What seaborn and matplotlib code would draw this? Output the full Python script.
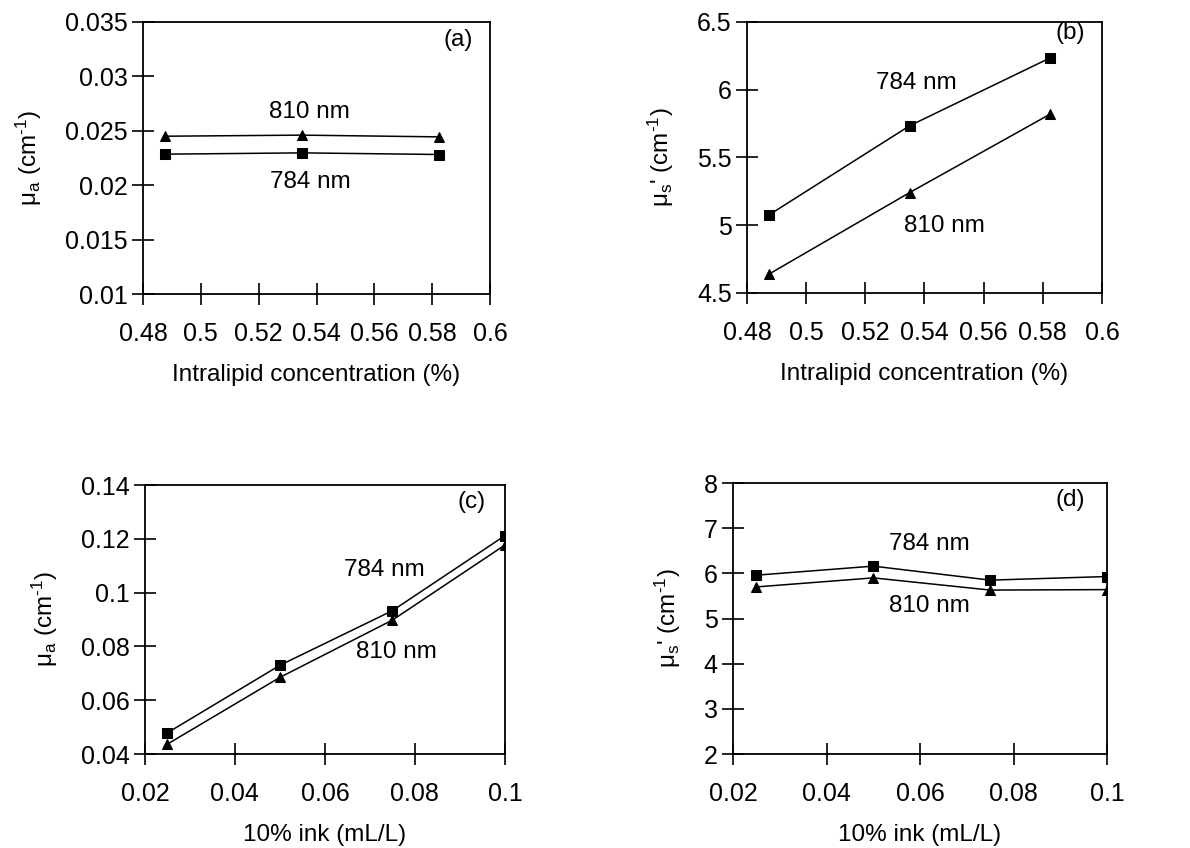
import numpy as np
import matplotlib
matplotlib.use("Agg")
import matplotlib.pyplot as plt
import seaborn as sns

# panel (a)/(b): intralipid series
lipid = [0.4875, 0.535, 0.5825]
mua_lip_784 = [0.02285, 0.02297, 0.02282]
mua_lip_810 = [0.0245, 0.0246, 0.02444]
mus_lip_784 = [5.077, 5.734, 6.235]
mus_lip_810 = [4.64, 5.241, 5.82]

# panel (c)/(d): ink series
ink = [0.025, 0.05, 0.075, 0.1]
mua_ink_784 = [0.0479, 0.073, 0.0933, 0.1212]
mua_ink_810 = [0.0437, 0.0685, 0.0898, 0.1177]
mus_ink_784 = [5.96, 6.16, 5.85, 5.93]
mus_ink_810 = [5.70, 5.90, 5.63, 5.64]

sns.set_theme(style="ticks")
plt.rcParams["font.family"] = ["Liberation Sans", "DejaVu Sans"]
plt.rcParams["mathtext.fontset"] = "custom"
plt.rcParams["mathtext.rm"] = "Liberation Sans"
plt.rcParams["mathtext.it"] = "Liberation Sans"
plt.rcParams["mathtext.default"] = "regular"
for k in ["text.color", "axes.labelcolor", "xtick.color", "ytick.color"]:
    plt.rcParams[k] = "black"

FS = 18
LFS = 17.5
fig = plt.figure(figsize=(11.9, 8.48), dpi=100)

def panel(rect, x, y784, y810, xlim, xticks, ylim, yticks, xlabel, ylabel,
          tag, tagpos, lab784, lab810):
    ax = fig.add_axes(rect)
    sns.lineplot(x=x, y=y784, marker="s", color="black", markersize=7,
                 markeredgecolor="black", linewidth=1.1, ax=ax)
    sns.lineplot(x=x, y=y810, marker="^", color="black", markersize=7,
                 markeredgecolor="black", linewidth=1.1, ax=ax)
    ax.set_xlim(*xlim)
    ax.set_ylim(*ylim)
    ax.set_xticks(xticks)
    ax.set_yticks(yticks)
    ax.set_xticklabels(["{:g}".format(v) for v in xticks], fontsize=FS)
    ax.set_yticklabels(["{:g}".format(v) for v in yticks], fontsize=FS)
    ax.tick_params(axis="both", direction="inout", length=16, width=1.2,
                   color="black", top=False, right=False)
    ax.tick_params(axis="x", pad=12)
    ax.tick_params(axis="y", pad=3)
    for s in ax.spines.values():
        s.set_linewidth(1.3)
        s.set_color("black")
    ax.set_xlabel(xlabel, fontsize=LFS, labelpad=13)
    ax.set_ylabel(ylabel, fontsize=LFS, labelpad=15)
    ax.text(tagpos[0], tagpos[1], tag, transform=ax.transAxes,
            ha="center", va="center", fontsize=LFS)
    ax.text(lab784[0], lab784[1], "784 nm", ha="center", va="center", fontsize=LFS)
    ax.text(lab810[0], lab810[1], "810 nm", ha="center", va="center", fontsize=LFS)
    return ax

mua_lab = "$\\mu_a$ (cm$^{\u2010 1}$)".replace(" 1", "1")
mus_lab = "$\\mu_s$' (cm$^{\u2010 1}$)".replace(" 1", "1")

panel([0.1202, 0.6533, 0.2916, 0.3208], lipid, mua_lip_784, mua_lip_810,
      (0.48, 0.6), np.round(np.arange(0.48, 0.601, 0.02), 2),
      (0.01, 0.035), np.round(np.arange(0.01, 0.0351, 0.005), 3),
      "Intralipid concentration (%)", mua_lab, "(a)", (0.908, 0.934),
      (0.538, 0.0203), (0.5377, 0.0267))

panel([0.6277, 0.6545, 0.2983, 0.3196], lipid, mus_lip_784, mus_lip_810,
      (0.48, 0.6), np.round(np.arange(0.48, 0.601, 0.02), 2),
      (4.5, 6.5), np.round(np.arange(4.5, 6.51, 0.5), 1),
      "Intralipid concentration (%)", mus_lab, "(b)", (0.91, 0.96),
      (0.5372, 6.046), (0.5468, 4.996))

panel([0.1218, 0.1108, 0.3025, 0.3172], ink, mua_ink_784, mua_ink_810,
      (0.02, 0.1), np.round(np.arange(0.02, 0.101, 0.02), 2),
      (0.04, 0.14), np.round(np.arange(0.04, 0.141, 0.02), 2),
      "10% ink (mL/L)", mua_lab, "(c)", (0.908, 0.937),
      (0.0733, 0.1084), (0.0758, 0.078))

panel([0.616, 0.1108, 0.3143, 0.3196], ink, mus_ink_784, mus_ink_810,
      (0.02, 0.1), np.round(np.arange(0.02, 0.101, 0.02), 2),
      (2, 8), np.arange(2, 9, 1),
      "10% ink (mL/L)", mus_lab, "(d)", (0.901, 0.937),
      (0.0621, 6.66), (0.0621, 5.27))

fig.savefig("out.png", dpi=100)
